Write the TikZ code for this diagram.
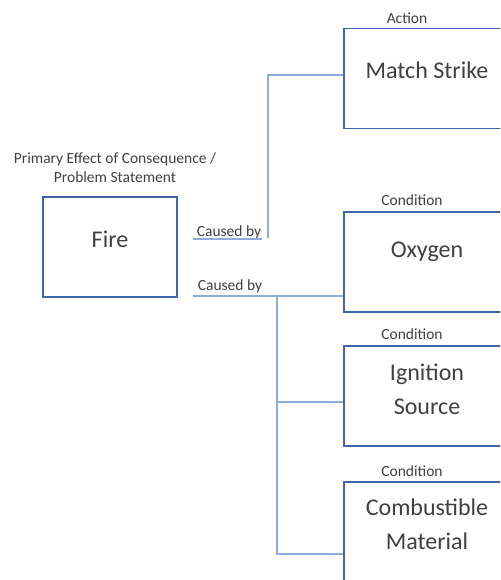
\documentclass[tikz,border=0pt]{standalone}
\usepackage{fontspec}
\setmainfont{Carlito}
\usepackage{tikz}
\usetikzlibrary{calc}
\definecolor{boxblue}{RGB}{66,100,170}
\definecolor{linkblue}{RGB}{143,170,220}
\definecolor{txtgray}{RGB}{64,64,64}
\begin{document}
\begin{tikzpicture}[x=1pt,y=-1pt,
	box/.style={draw=boxblue,line width=1.6pt,minimum height=100pt,inner sep=0pt},
	link/.style={draw=linkblue,line width=1.2pt},
	big/.style={text=txtgray,font=\fontsize{24}{34}\selectfont,align=center},
	small/.style={text=txtgray,font=\fontsize{15.5}{19}\selectfont,align=center,inner sep=0pt}]
		\fill[white] (0,0) rectangle (500,580);
		\clip (0,0) rectangle (500,580);
		\node[box,minimum width=134pt] (fire) at (110,247) {}; %fire
		\node[big] at (110,239) {Fire};
		\node[small] (prim) at (115,167.5) {Primary Effect of Consequence /\\Problem Statement};
		\node[box,minimum width=166pt] (match) at (427,78.5) {}; %action
		\node[big] at (427,70) {Match Strike};
		\node[small] at (407,18) {Action};
		\node[box,minimum width=166pt] (oxy) at (427,262) {}; %conditions
		\node[big] at (427,252) {Oxygen};
		\node[small] at (412,200) {Condition};
		\node[box,minimum width=166pt] (ign) at (427,396) {};
		\node[big] at (427,389) {Ignition\\Source};
		\node[small] at (412,334) {Condition};
		\node[box,minimum width=166pt] (comb) at (427,532) {};
		\node[big] at (427,524.5) {Combustible\\Material};
		\node[small] at (412,471) {Condition};
		\node[small] (cb1) at (229,232) {Caused by}; %caused by
		\node[small] (cb2) at (230,286) {Caused by};
		\coordinate (u1) at (193,239);
		\coordinate (u2) at (262,239);
		\coordinate (up) at (268,238);
		\coordinate (u3) at (193,296);
		\coordinate (trunk) at (277,296);
		\draw[link] (u1) -- (u2);
		\draw[link] (up) |- ([yshift=3.5pt]match.west);
		\draw[link] (u3) -- ([yshift=-34pt]oxy.west);
		\draw[link] (trunk) |- ([yshift=-6pt]ign.west);
		\draw[link] (trunk) |- ([yshift=-22pt]comb.west);
	\end{tikzpicture}
\end{document}
